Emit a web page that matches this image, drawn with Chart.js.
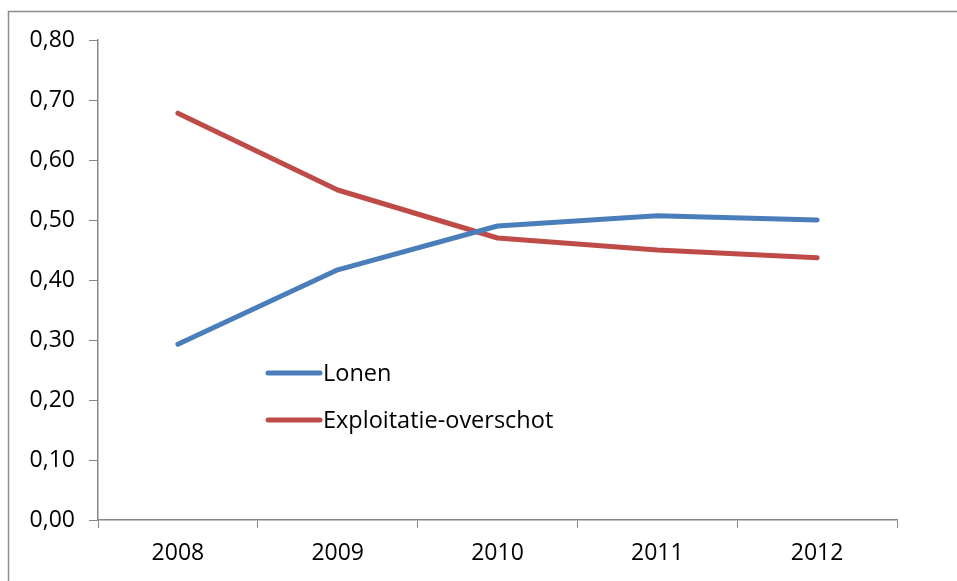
<!DOCTYPE html>
<html>
<head>
<meta charset="utf-8">
<script src="https://cdn.jsdelivr.net/npm/chart.js@4"></script>
<style>
  html, body { margin: 0; padding: 0; background: #fff; }
  #wrap { width: 957px; height: 581px; }
</style>
</head>
<body>
<div id="wrap"><canvas id="lonenChart" width="957" height="581"></canvas></div>
<script>
// data
let years = ["2008", "2009", "2010", "2011", "2012"];
let lonen = [0.293, 0.417, 0.490, 0.507, 0.500];
let exploitatie = [0.678, 0.550, 0.470, 0.450, 0.437];
let seriesNames = ["Lonen", "Exploitatie-overschot"];

let fontFamily = "'Open Sans', Lato, sans-serif";
let axisGray = "#868686";

// outer frame of the chart object (cut off at right and bottom)
let framePlugin = {
    id: "frame",
    beforeDraw(chart) {
        let c = chart.ctx;
        c.save();
        c.fillStyle = "#fff";
        c.fillRect(0, 0, chart.width, chart.height);
        c.strokeStyle = "#8c8c8c";
        c.lineWidth = 1.5;
        c.strokeRect(8.5, 11.5, 1000, 1000);
        c.restore();
    }
};

// legend drawn inside the plot, like the original
let insideLegend = {
    id: "insideLegend",
    afterDraw(chart) {
        let c = chart.ctx;
        c.save();
        c.font = "23.5px " + fontFamily;
        c.textBaseline = "middle";
        chart.data.datasets.forEach(function(ds, i) {
            let y = 373 + i * 47;
            c.strokeStyle = ds.borderColor;
            c.lineWidth = 5;
            c.lineCap = "round";
            c.beginPath();
            c.moveTo(268, y);
            c.lineTo(320, y);
            c.stroke();
            c.fillStyle = "#000";
            c.fillText(ds.label, 323, y + 1);
        });
        c.restore();
    }
};

let ctx = document.getElementById("lonenChart").getContext("2d");
new Chart(ctx, {
    type: "line",
    data: {
        labels: years,
        datasets: [
            { label: seriesNames[0], data: lonen, borderColor: "#4A7EBB", borderWidth: 5, pointRadius: 0, tension: 0, borderCapStyle: "round", borderJoinStyle: "round" },
            { label: seriesNames[1], data: exploitatie, borderColor: "#BE4B48", borderWidth: 5, pointRadius: 0, tension: 0, borderCapStyle: "round", borderJoinStyle: "round" }
        ]
    },
    options: {
        responsive: false,
        animation: false,
        layout: { padding: { top: 40, right: 60, left: 0, bottom: 0 } },
        plugins: {
            legend: { display: false },
            tooltip: { enabled: false }
        },
        scales: {
            x: {
                offset: true,
                grid: { offset: true, drawOnChartArea: false, color: axisGray, tickLength: 8 },
                border: { color: axisGray, width: 1.5 },
                ticks: { color: "#000", font: { family: fontFamily, size: 23 }, padding: 12, maxRotation: 0 },
                afterFit: function(scale) { scale.height = 61; }
            },
            y: {
                min: 0,
                max: 0.8,
                grid: { drawOnChartArea: false, color: axisGray, tickLength: 9 },
                border: { color: axisGray, width: 1.5 },
                ticks: {
                    stepSize: 0.1,
                    color: "#000",
                    font: { family: fontFamily, size: 23 },
                    padding: 14,
                    callback: function(v) { return v.toFixed(2).replace(".", ","); }
                },
                afterFit: function(scale) { scale.width = 98; }
            }
        }
    },
    plugins: [framePlugin, insideLegend]
});
</script>
</body>
</html>
